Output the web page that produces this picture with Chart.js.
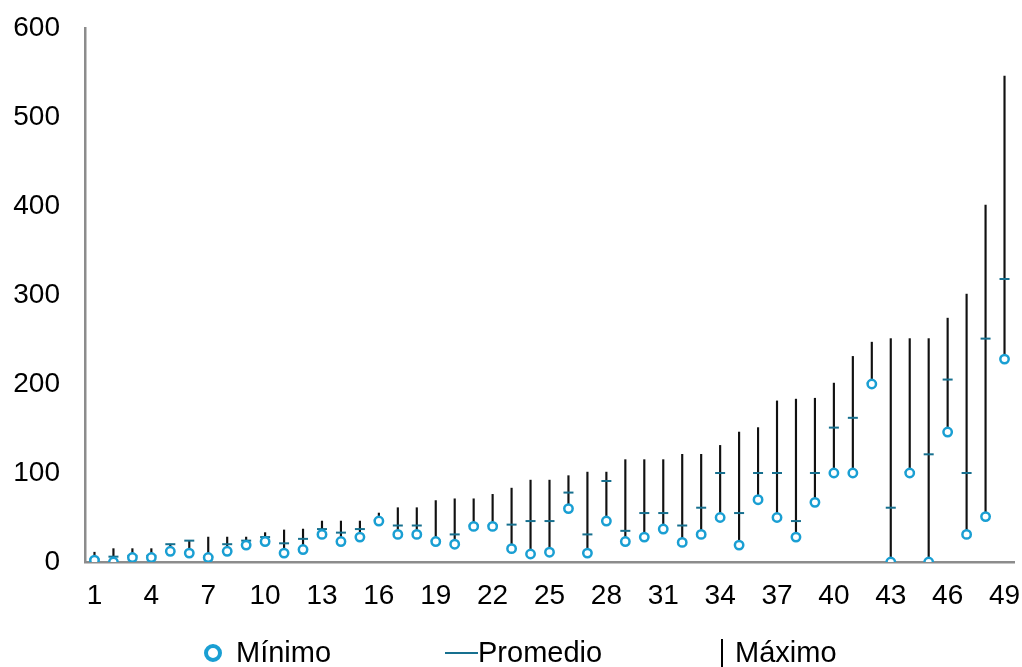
<!DOCTYPE html>
<html>
<head>
<meta charset="utf-8">
<script src="https://cdn.jsdelivr.net/npm/chart.js@4/dist/chart.umd.min.js"></script>
<style>
  html, body { margin: 0; padding: 0; background: #fff; }
  #wrap { position: relative; width: 1022px; height: 667px; }
  #legend {
    position: absolute; left: 0; top: 634px; width: 1022px; height: 33px;
    font-family: "Liberation Sans", Arial, sans-serif; font-size: 29px; color: #000;
  }
  #legend .item { position: absolute; top: 0; line-height: 36px; white-space: nowrap; }
  .dot { position: absolute; width: 10px; height: 10px; border: 4px solid #1a9fd3; border-radius: 50%; background: #fff; }
  .dash { position: absolute; width: 33px; height: 2px; background: #17708f; }
  .vbar { position: absolute; width: 2px; height: 30px; background: #000; }
</style>
</head>
<body>
<div id="wrap">
  <canvas id="chart"></canvas>
  <div id="legend">
    <span class="dot" style="left:204px; top:10px;"></span>
    <span class="item" style="left:236px;">Mínimo</span>
    <span class="dash" style="left:445px; top:18px;"></span>
    <span class="item" style="left:478px;">Promedio</span>
    <span class="vbar" style="left:721px; top:5px;"></span>
    <span class="item" style="left:735px;">Máximo</span>
  </div>
</div>
<script>
// categories and values
var categories = ['1','2','3','4','5','6','7','8','9','10','11','12','13','14','15','16','17','18','19','20',
  '21','22','23','24','25','26','27','28','29','30','31','32','33','34','35','36','37','38','39','40',
  '41','42','43','44','45','46','47','48','49'];

var minimo = [2, 0, 5, 5, 12, 10, 5, 12, 19, 23, 10, 14, 31, 23, 28, 46, 31, 31, 23, 20,
  40, 40, 15, 9, 11, 60, 10, 46, 23, 28, 37, 22, 31, 50, 19, 70, 50, 28, 67, 100,
  100, 200, 0, 100, 0, 146, 31, 51, 228];

var promedio = [3, 6, 7, 7, 20, 24, 6, 20, 24, 28, 21, 26, 37, 33, 37, 47, 41, 41, 24, 31,
  41, 41, 42, 46, 46, 78, 31, 91, 35, 55, 55, 41, 61, 100, 55, 100, 100, 46, 100, 151,
  162, 201, 61, 101, 121, 205, 100, 251, 318];

var maximo = [11, 15, 15, 15, 20, 24, 28, 28, 28, 33, 36, 37, 46, 46, 46, 55, 61, 61, 69, 71,
  71, 76, 83, 92, 92, 97, 101, 101, 115, 115, 115, 121, 121, 131, 146, 151, 181, 183, 184, 201,
  231, 247, 251, 251, 251, 274, 301, 401, 546];

var yTicks = [0, 100, 200, 300, 400, 500, 600];

// vertical line from minimum up to maximum
var rangos = minimo.map(function (v, i) { return [v, maximo[i]]; });

var axisGray = '#8c8c8c';
var tickFont = { family: '"Liberation Sans", Arial, sans-serif', size: 28 };

var ctx = document.getElementById('chart').getContext('2d');
var chart = new Chart(ctx, {
  data: {
    labels: categories,
    datasets: [
      {
        type: 'line',
        label: 'Mínimo',
        data: minimo,
        showLine: false,
        pointStyle: 'circle',
        pointRadius: 4.2,
        pointBorderWidth: 2.5,
        pointBorderColor: '#1a9fd3',
        pointBackgroundColor: '#ffffff',
        order: 0
      },
      {
        type: 'line',
        label: 'Promedio',
        data: promedio,
        showLine: false,
        pointStyle: 'line',
        pointRadius: 5,
        pointBorderWidth: 2,
        pointBorderColor: '#17708f',
        order: 1
      },
      {
        type: 'bar',
        label: 'Máximo',
        data: rangos,
        backgroundColor: '#111111',
        barThickness: 1.5,
        order: 2
      }
    ]
  },
  options: {
    responsive: true,
    maintainAspectRatio: false,
    animation: false,
    layout: { padding: { top: 28, right: 8, left: 0, bottom: 0 } },
    plugins: {
      legend: { display: false },
      tooltip: { enabled: false }
    },
    scales: {
      x: {
        offset: true,
        grid: { display: false, drawTicks: false },
        border: { color: axisGray, width: 2.5 },
        ticks: {
          autoSkip: false,
          maxRotation: 0,
          color: '#000',
          font: tickFont,
          padding: 17,
          callback: function (val, i) { return i % 3 === 0 ? categories[i] : ''; }
        },
        afterFit: function (scale) {
          scale.height = 105;
          scale.paddingLeft = 0;
          scale.paddingRight = 0;
        }
      },
      y: {
        min: 0,
        max: 600,
        grid: { display: false, drawTicks: false },
        border: { color: axisGray, width: 2.5 },
        afterBuildTicks: function (scale) {
          scale.ticks = yTicks.map(function (v) { return { value: v }; });
        },
        ticks: {
          color: '#000',
          font: tickFont,
          padding: 25
        },
        afterFit: function (scale) {
          scale.width = 85;
          scale.paddingTop = 0;
          scale.paddingBottom = 0;
        }
      }
    }
  }
});
</script>
</body>
</html>
